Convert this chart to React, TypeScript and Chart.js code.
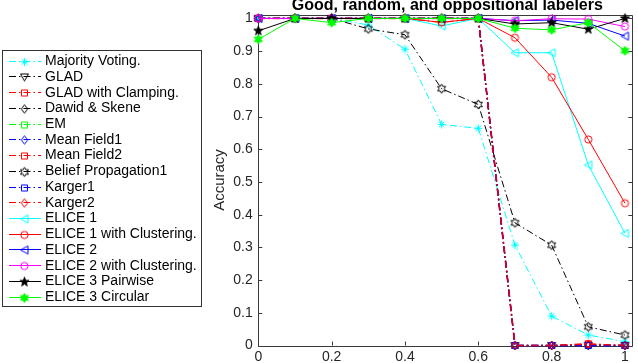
import { useEffect, useRef } from 'react';
import { Chart, registerables } from 'chart.js';

Chart.register(...registerables);

// Fraction of oppositional labelers on the x axis
const xValues = [0, 0.1, 0.2, 0.3, 0.4, 0.5, 0.6, 0.7, 0.8, 0.9, 1];
const xTicks = [0, 0.2, 0.4, 0.6, 0.8, 1];
const xTickLabels = ['0', '0.2', '0.4', '0.6', '0.8', '1'];
const yTicks = [0, 0.1, 0.2, 0.3, 0.4, 0.5, 0.6, 0.7, 0.8, 0.9, 1];
const yTickLabels = ['0', '0.1', '0.2', '0.3', '0.4', '0.5', '0.6', '0.7', '0.8', '0.9', '1'];

const chartTitle = 'Good, random, and oppositional labelers';
const yAxisTitle = 'Accuracy';

// Accuracy per method
const majorityVoting = [1, 1, 1, 0.98, 0.906, 0.676, 0.664, 0.307, 0.09, 0.032, 0.012];
const glad = [1, 1, 1, 1, 1, 1, 1, 0, 0, 0, 0];
const gladClamping = [1, 1, 1, 1, 1, 1, 1, 0, 0, 0.004, 0];
const dawidSkene = [1, 1, 1, 1, 1, 1, 1, 0, 0, 0, 0];
const emValues = [1, 1, 1, 1, 1, 1, 1, 0, 0, 0, 0];
const meanField1 = [1, 1, 1, 1, 1, 1, 1, 0, 0, 0, 0];
const meanField2 = [1, 1, 1, 1, 1, 0.988, 1, 0, 0, 0.005, 0];
const beliefPropagation1 = [1, 1, 1, 0.968, 0.95, 0.785, 0.737, 0.375, 0.307, 0.057, 0.032];
const karger1 = [1, 1, 1, 1, 1, 1, 1, 0, 0, 0, 0];
const karger2 = [1, 1, 1, 1, 1, 1, 1, 0, 0, 0.004, 0];
const elice1 = [1, 1, 1, 1, 1, 0.977, 1, 0.895, 0.895, 0.552, 0.343];
const elice1Clustering = [1, 1, 1, 1, 1, 0.988, 1, 0.941, 0.82, 0.63, 0.435];
const elice2 = [1, 1, 1, 1, 1, 1, 1, 0.993, 0.995, 0.985, 0.946];
const elice2Clustering = [1, 1, 1, 1, 1, 1, 1, 0.993, 0.999, 0.998, 0.975];
const elice3Pairwise = [0.962, 1, 1, 1, 1, 1, 1, 0.983, 0.987, 0.967, 1];
const elice3Circular = [0.936, 1, 0.987, 1, 1, 1, 1, 0.97, 0.965, 0.987, 0.901];

type Marker = 'asterisk' | 'triDown' | 'square' | 'diamond' | 'hexagram' | 'triLeft' | 'circle' | 'pentagram';

interface Series {
  name: string;
  values: number[];
  color: string;
  marker: Marker;
  dashed: boolean;
  filled?: boolean;
  // colour/width used for the plotted line where overlapping baselines blend
  lineColor?: string;
  lineWidth?: number;
}

const CYAN = '#00ffff';
const RED = '#ff0000';
const GREEN = '#00ff00';
const BLUE = '#0000ff';
const MAGENTA = '#ff00ff';
const BLACK = '#000000';
const RED_BLEND = 'rgba(255,0,0,0.8)';

const series: Series[] = [
  { name: 'Majority Voting.', values: majorityVoting, color: CYAN, marker: 'asterisk', dashed: true },
  { name: 'GLAD', values: glad, color: BLACK, marker: 'triDown', dashed: true },
  { name: 'GLAD with Clamping.', values: gladClamping, color: RED, marker: 'square', dashed: true, lineColor: RED_BLEND },
  { name: 'Dawid & Skene', values: dawidSkene, color: BLACK, marker: 'diamond', dashed: true },
  { name: 'EM', values: emValues, color: GREEN, marker: 'square', dashed: true },
  { name: 'Mean Field1', values: meanField1, color: BLUE, marker: 'diamond', dashed: true, lineWidth: 1.3 },
  { name: 'Mean Field2', values: meanField2, color: RED, marker: 'square', dashed: true, lineColor: RED_BLEND, lineWidth: 1.3 },
  { name: 'Belief Propagation1', values: beliefPropagation1, color: BLACK, marker: 'hexagram', dashed: true },
  { name: 'Karger1', values: karger1, color: BLUE, marker: 'square', dashed: true, lineWidth: 1.3 },
  { name: 'Karger2', values: karger2, color: RED, marker: 'diamond', dashed: true, lineColor: RED_BLEND, lineWidth: 1.7 },
  { name: 'ELICE 1', values: elice1, color: CYAN, marker: 'triLeft', dashed: false },
  { name: 'ELICE 1 with Clustering.', values: elice1Clustering, color: RED, marker: 'circle', dashed: false },
  { name: 'ELICE 2', values: elice2, color: BLUE, marker: 'triLeft', dashed: false },
  { name: 'ELICE 2 with Clustering.', values: elice2Clustering, color: MAGENTA, marker: 'circle', dashed: false },
  { name: 'ELICE 3 Pairwise', values: elice3Pairwise, color: BLACK, marker: 'pentagram', dashed: false, filled: true },
  { name: 'ELICE 3 Circular', values: elice3Circular, color: GREEN, marker: 'hexagram', dashed: false, filled: true },
];

const DASH_DOT = [7, 3, 1.5, 3];
const FONT = '"Liberation Sans", Arial, Helvetica, sans-serif';
const AXIS_COLOR = '#3a3a3a';
const TEXT_COLOR = '#262626';

function starPath(g: CanvasRenderingContext2D, points: number, outer: number, inner: number) {
  for (let i = 0; i < points * 2; i++) {
    const r = i % 2 === 0 ? outer : inner;
    const a = -Math.PI / 2 + (i * Math.PI) / points;
    const px = Math.cos(a) * r;
    const py = Math.sin(a) * r;
    if (i === 0) g.moveTo(px, py);
    else g.lineTo(px, py);
  }
  g.closePath();
}

function makeMarker(kind: Marker, color: string, filled?: boolean): HTMLCanvasElement {
  const c = document.createElement('canvas');
  c.width = 13;
  c.height = 13;
  const g = c.getContext('2d') as CanvasRenderingContext2D;
  g.translate(6.5, 6.5);
  g.strokeStyle = color;
  g.fillStyle = color;
  g.lineWidth = 1;
  g.beginPath();
  switch (kind) {
    case 'asterisk':
      for (let k = 0; k < 4; k++) {
        const a = (k * Math.PI) / 4;
        g.moveTo(Math.cos(a) * 4, Math.sin(a) * 4);
        g.lineTo(-Math.cos(a) * 4, -Math.sin(a) * 4);
      }
      break;
    case 'square':
      g.rect(-3, -3, 6, 6);
      break;
    case 'diamond':
      g.moveTo(0, -4.2);
      g.lineTo(3.2, 0);
      g.lineTo(0, 4.2);
      g.lineTo(-3.2, 0);
      g.closePath();
      break;
    case 'triDown':
      g.moveTo(-4, -3);
      g.lineTo(4, -3);
      g.lineTo(0, 4);
      g.closePath();
      break;
    case 'triLeft':
      g.moveTo(-4, 0);
      g.lineTo(3.5, -4);
      g.lineTo(3.5, 4);
      g.closePath();
      break;
    case 'circle':
      g.arc(0, 0, 3.6, 0, Math.PI * 2);
      break;
    case 'hexagram':
      starPath(g, 6, 4.6, 2.6);
      break;
    case 'pentagram':
      starPath(g, 5, 4.8, 1.9);
      break;
  }
  if (filled) g.fill();
  g.stroke();
  return c;
}

export default function App() {
  const canvasRef = useRef<HTMLCanvasElement | null>(null);

  useEffect(() => {
    const canvas = canvasRef.current;
    if (!canvas) return;

    const markers = series.map((s) => makeMarker(s.marker, s.color, s.filled));

    // Box with inward ticks on all four sides, tick labels and titles
    const framePlugin = {
      id: 'frame',
      beforeDatasetsDraw(chart: any) {
        const { ctx, chartArea } = chart;
        const xs = chart.scales.x;
        const ys = chart.scales.y;
        const { left, right, top, bottom } = chartArea;
        const tl = 4;
        ctx.save();
        ctx.strokeStyle = AXIS_COLOR;
        ctx.lineWidth = 1;
        ctx.beginPath();
        ctx.rect(Math.round(left) + 0.5, Math.round(top) + 0.5, Math.round(right) - Math.round(left), Math.round(bottom) - Math.round(top));
        for (const t of xTicks) {
          const px = Math.round(xs.getPixelForValue(t)) + 0.5;
          ctx.moveTo(px, bottom);
          ctx.lineTo(px, bottom - tl);
          ctx.moveTo(px, top);
          ctx.lineTo(px, top + tl);
        }
        for (const t of yTicks) {
          const py = Math.round(ys.getPixelForValue(t)) + 0.5;
          ctx.moveTo(left, py);
          ctx.lineTo(left + tl, py);
          ctx.moveTo(right, py);
          ctx.lineTo(right - tl, py);
        }
        ctx.stroke();

        ctx.fillStyle = TEXT_COLOR;
        ctx.font = `14px ${FONT}`;
        ctx.textAlign = 'center';
        ctx.textBaseline = 'middle';
        xTicks.forEach((t, i) => {
          ctx.fillText(xTickLabels[i], xs.getPixelForValue(t), bottom + 11.5);
        });
        ctx.textAlign = 'right';
        yTicks.forEach((t, i) => {
          ctx.fillText(yTickLabels[i], left - 5.5, ys.getPixelForValue(t));
        });

        // y axis title
        ctx.save();
        ctx.translate(220, (top + bottom) / 2);
        ctx.rotate(-Math.PI / 2);
        ctx.textAlign = 'center';
        ctx.textBaseline = 'middle';
        ctx.font = `15px ${FONT}`;
        ctx.fillText(yAxisTitle, 0, 0);
        ctx.restore();

        // chart title (sits partly above the canvas top)
        ctx.font = `bold 16px ${FONT}`;
        ctx.fillStyle = '#000000';
        ctx.textAlign = 'center';
        ctx.textBaseline = 'alphabetic';
        ctx.fillText(chartTitle, (left + right) / 2 + 2, 9.5);
        ctx.restore();
      },
    };

    // Boxed legend to the left of the axes
    const legendPlugin = {
      id: 'sideLegend',
      afterDraw(chart: any) {
        const { ctx } = chart;
        const boxLeft = 2.5;
        const boxTop = 50.5;
        const boxRight = 201.5;
        const boxBottom = 306.5;
        const rowTop = 60.7;
        const rowStep = 15.73;
        ctx.save();
        ctx.fillStyle = '#ffffff';
        ctx.fillRect(boxLeft, boxTop, boxRight - boxLeft, boxBottom - boxTop);
        ctx.strokeStyle = '#333333';
        ctx.lineWidth = 1;
        ctx.strokeRect(boxLeft, boxTop, boxRight - boxLeft, boxBottom - boxTop);
        ctx.font = `14px ${FONT}`;
        ctx.textAlign = 'left';
        ctx.textBaseline = 'middle';
        series.forEach((s, i) => {
          const y = rowTop + i * rowStep;
          const ly = Math.round(y) + 0.5;
          ctx.strokeStyle = s.color;
          ctx.lineWidth = 1;
          ctx.setLineDash(s.dashed ? DASH_DOT : []);
          ctx.beginPath();
          ctx.moveTo(9, ly);
          ctx.lineTo(41, ly);
          ctx.stroke();
          ctx.setLineDash([]);
          const m = markers[i];
          ctx.drawImage(m, 24.5 - m.width / 2, ly - m.height / 2 + 0.5);
          ctx.fillStyle = '#000000';
          ctx.fillText(s.name, 45, y + 0.5);
        });
        ctx.restore();
      },
    };

    const n = series.length;
    const chart = new Chart(canvas, {
      type: 'line',
      data: {
        datasets: series.map((s, i) => ({
          label: s.name,
          data: xValues.map((x, k) => ({ x, y: s.values[k] })),
          borderColor: s.lineColor ?? s.color,
          backgroundColor: s.color,
          borderWidth: s.lineWidth ?? 1,
          borderDash: s.dashed ? DASH_DOT : [],
          pointStyle: markers[i] as any,
          pointRadius: 4,
          pointHoverRadius: 4,
          fill: false,
          tension: 0,
          clip: false as any,
          order: n - i,
        })),
      },
      options: {
        responsive: false,
        animation: false,
        events: [],
        layout: { padding: { left: 258.3, right: 1.3, top: 14.5, bottom: 17.5 } },
        scales: {
          x: { type: 'linear', min: 0, max: 1.02, display: false },
          y: { type: 'linear', min: 0, max: 1.012, display: false },
        },
        plugins: {
          legend: { display: false },
          title: { display: false },
          tooltip: { enabled: false },
        },
      },
      plugins: [framePlugin, legendPlugin],
    });

    return () => chart.destroy();
  }, []);

  return (
    <div style={{ position: 'fixed', left: 0, top: 0, width: 638, height: 363, background: '#ffffff' }}>
      <canvas ref={canvasRef} width={638} height={363} style={{ display: 'block', width: 638, height: 363 }} />
    </div>
  );
}
